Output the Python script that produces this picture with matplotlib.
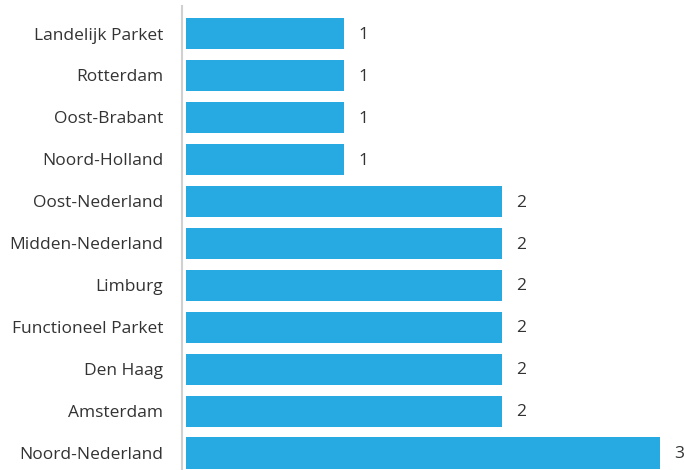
import matplotlib.pyplot as plt

regions = ["Landelijk Parket", "Rotterdam", "Oost-Brabant", "Noord-Holland",
           "Oost-Nederland", "Midden-Nederland", "Limburg", "Functioneel Parket",
           "Den Haag", "Amsterdam", "Noord-Nederland"]
counts = [1, 1, 1, 1, 2, 2, 2, 2, 2, 2, 3]

plt.rcParams['font.family'] = ['Open Sans', 'DejaVu Sans']

fig = plt.figure(figsize=(6.84, 4.70), dpi=100)
ax = fig.add_axes([182 / 684, 0, 1 - 182 / 684, 464 / 470])

bar_color = '#27AAE1'
text_color = '#333333'
pos = list(range(len(regions)))
ax.barh(pos, counts, height=0.74, color=bar_color)

for p, v in zip(pos, counts):
    ax.text(v + 0.09, p + 0.03, str(v), va='center', ha='left', fontsize=12.5, color=text_color)

ax.set_yticks(pos)
ax.set_yticklabels(regions, fontsize=12.5, color=text_color)
ax.tick_params(axis='y', length=0, pad=13.5)
ax.set_xticks([])

ax.set_xlim(-4 / 158, 498 / 158)
ax.set_ylim(10.405, -0.656)

for side in ['top', 'right', 'bottom']:
    ax.spines[side].set_visible(False)
ax.spines['left'].set_color('#d0d0d0')
ax.spines['left'].set_linewidth(1.5)

fig.savefig('out.png', dpi=100)
